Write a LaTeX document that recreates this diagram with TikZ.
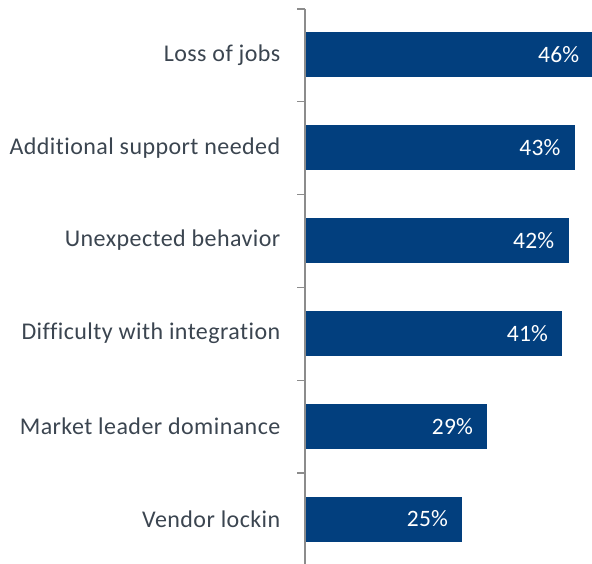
\documentclass[tikz,border=0pt]{standalone}
\usepackage{fontspec}
\setmainfont{Carlito}
\newfontfamily\catfont[LetterSpace=1.8,Ligatures=NoCommon]{Carlito}
\newfontfamily\valfont[LetterSpace=1.0]{Carlito}
\definecolor{barblue}{HTML}{023F7E}
\definecolor{axisgray}{HTML}{8C8C8C}
\definecolor{labelgray}{HTML}{3B4550}
\begin{document}
\begin{tikzpicture}[x=1pt,y=-1pt,
  bar/.style={fill=barblue,draw=none},
  cat/.style={anchor=east,text=labelgray,font=\catfont\fontsize{24}{28}\selectfont,inner sep=0pt},
  val/.style={anchor=east,text=white,font=\valfont\fontsize{23.5}{27}\selectfont,inner sep=0pt},
  axis/.style={draw=axisgray,line width=1.4pt}]
\useasboundingbox (0,0) rectangle (592,564);
\begin{scope}
\clip (0,0) rectangle (592,564);
% axis
\coordinate (atop) at (305,9);
\coordinate (abot) at (305,566);
\draw[axis] (atop) -- (abot);
\foreach \i/\yy in {0/9,1/101.8,2/194.6,3/287.4,4/380.2,5/473,6/565.8}{
  \coordinate (t\i) at (297,\yy);
  \coordinate (u\i) at (305,\yy);
  \draw[axis] (t\i) -- (u\i);
}
% bars
\foreach \i/\v/\lab in {1/46/Loss of jobs,2/43/Additional support needed,3/42/Unexpected behavior,4/41/Difficulty with integration,5/29/Market leader dominance,6/25/Vendor lockin}{
  \pgfmathsetmacro{\yc}{55+(\i-1)*92.8}
  \pgfmathsetmacro{\xr}{306+\v*6.25}
  \coordinate (bl\i) at (306,\yc-22.5);
  \coordinate (br\i) at (\xr,\yc+22.5);
  \fill[bar] (bl\i) rectangle (br\i);
  \node[val] (v\i) at (\xr-14,\yc) {\v\%};
  \node[cat] (c\i) at (280.5,\yc) {\lab};
}
\end{scope}
\end{tikzpicture}
\end{document}
